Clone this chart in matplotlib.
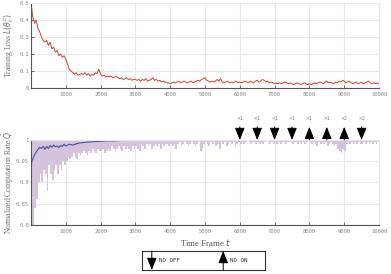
import numpy as np
import matplotlib
matplotlib.use("Agg")
import matplotlib.pyplot as plt

# training loss, one value every 50 frames (0 .. 10000)
loss_step = 50
loss = [
    0.50, 0.42, 0.38, 0.40, 0.35, 0.33, 0.30, 0.28, 0.27, 0.28, 0.25, 0.27, 0.23, 0.24, 0.21, 0.22, 0.19, 0.20, 0.18, 0.19,
    0.17, 0.14, 0.11, 0.10, 0.09, 0.08, 0.09, 0.075, 0.08, 0.085, 0.08, 0.09, 0.075, 0.085, 0.07, 0.08, 0.075, 0.09, 0.085, 0.11,
    0.08, 0.07, 0.075, 0.065, 0.07, 0.065, 0.07, 0.06, 0.065, 0.07, 0.06, 0.055, 0.06, 0.05, 0.055, 0.06, 0.05, 0.055, 0.045, 0.05,
    0.05, 0.045, 0.05, 0.04, 0.05, 0.045, 0.055, 0.04, 0.045, 0.05, 0.06, 0.045, 0.05, 0.04, 0.045, 0.035, 0.04, 0.035, 0.03, 0.03,
    0.025, 0.03, 0.035, 0.03, 0.035, 0.04, 0.03, 0.035, 0.04, 0.035, 0.03, 0.035, 0.04, 0.03, 0.035, 0.04, 0.045, 0.04, 0.05, 0.055,
    0.06, 0.045, 0.04, 0.035, 0.04, 0.035, 0.04, 0.05, 0.04, 0.055, 0.035, 0.03, 0.035, 0.04, 0.03, 0.035, 0.03, 0.035, 0.04, 0.03,
    0.035, 0.03, 0.035, 0.04, 0.035, 0.03, 0.04, 0.035, 0.03, 0.04, 0.045, 0.035, 0.04, 0.05, 0.045, 0.035, 0.04, 0.03, 0.035, 0.03,
    0.025, 0.03, 0.025, 0.03, 0.025, 0.03, 0.035, 0.03, 0.025, 0.03, 0.025, 0.02, 0.025, 0.03, 0.025, 0.02, 0.025, 0.03, 0.025, 0.02,
    0.025, 0.02, 0.025, 0.03, 0.025, 0.03, 0.035, 0.03, 0.025, 0.035, 0.04, 0.03, 0.035, 0.03, 0.025, 0.035, 0.03, 0.04, 0.035, 0.045,
    0.04, 0.03, 0.035, 0.04, 0.03, 0.025, 0.03, 0.035, 0.025, 0.03, 0.035, 0.025, 0.03, 0.035, 0.04, 0.03, 0.025, 0.03, 0.025, 0.03,
    0.025,
]

# lowest normalized rate in each 50-frame bin
rate_step = 50
rate_min = [
    0.78, 0.80, 0.84, 0.86, 0.90, 0.92, 0.90, 0.93, 0.92, 0.88, 0.94, 0.92, 0.905, 0.93, 0.94, 0.92, 0.94, 0.93, 0.95, 0.94,
    0.95, 0.96, 0.955, 0.96, 0.97, 0.96, 0.955, 0.97, 0.965, 0.97, 0.975, 0.97, 0.965, 0.975, 0.97, 0.98, 0.975, 0.97, 0.98, 0.975,
    0.975, 0.98, 0.97, 0.975, 0.98, 0.975, 0.985, 0.98, 0.975, 0.98, 0.985, 0.98, 0.975, 0.985, 0.98, 0.985, 0.98, 0.975, 0.985, 0.98,
    0.985, 0.98, 0.975, 0.99, 0.985, 0.98, 0.99, 0.985, 0.99, 0.98, 0.985, 0.99, 0.985, 0.99, 0.98, 0.99, 0.985, 0.99, 0.99, 0.985,
    0.99, 0.985, 0.99, 0.98, 0.99, 0.995, 0.985, 0.99, 0.995, 0.99, 0.985, 0.99, 0.995, 0.99, 0.985, 0.99, 0.995, 0.975, 0.98, 0.99,
    0.995, 0.99, 0.985, 0.995, 0.99, 0.995, 0.985, 0.99, 0.98, 0.995, 0.99, 0.995, 0.985, 0.99, 0.995, 0.99, 0.995, 0.985, 0.99, 0.995,
    0.99, 0.995, 0.99, 0.995, 1.0, 0.995, 0.99, 0.995, 0.995, 0.99, 0.995, 0.99, 0.995, 0.99, 0.995, 1.0, 0.995, 0.99, 0.995, 0.99,
    0.995, 0.99, 0.995, 0.99, 0.995, 0.995, 0.99, 0.995, 1.0, 0.995, 0.99, 0.995, 0.995, 0.99, 0.995, 0.99, 0.995, 0.99, 0.995, 1.0,
    0.995, 0.99, 0.995, 0.99, 0.985, 0.995, 0.99, 0.995, 0.99, 0.995, 0.985, 0.99, 0.995, 0.99, 0.985, 0.99, 0.98, 0.975, 0.97, 0.98,
    0.975, 0.99, 0.995, 0.99, 0.995, 0.99, 0.995, 0.99, 0.995, 0.99, 0.99, 0.995, 0.99, 0.995, 0.99, 0.995, 0.99, 0.995, 0.99, 0.995,
]

# moving average of normalized rate
avg_frames = [0, 25, 50, 100, 150, 200, 250, 300, 350, 400, 450, 500, 550, 600, 650, 700, 750, 800, 850, 900,
              950, 1000, 1100, 1200, 1300, 1400, 1500, 1600, 1800, 2000, 2200, 2400, 2600, 2800, 3000, 3500, 4000, 10000]
avg_rate = [0.93, 0.95, 0.955, 0.965, 0.972, 0.978, 0.983, 0.98, 0.985, 0.978, 0.985, 0.98, 0.987, 0.983, 0.988, 0.984,
            0.986, 0.982, 0.987, 0.985, 0.99, 0.986, 0.99, 0.988, 0.991, 0.993, 0.994, 0.995, 0.996, 0.997, 0.998, 0.998,
            0.999, 0.999, 1.0, 1.0, 1.0, 1.0]

# ND switching events
event_frames = [6000, 6500, 7000, 7500, 8000, 8500, 9000, 9500]
event_on = [False, False, False, False, True, True, True, False]
event_labels = ["×1", "×1", "×1", "×1", "×1", "×1", "×2", "×2"]

xticks = list(range(0, 10001, 1000))
xtick_labels = [""] + [str(t) for t in xticks[1:]]

red = "#d6402d"
purple = "#d5c2dc"
blue = "#4a4f9c"
grid_c = "#e8e8e8"
tick_c = "#8a8a8a"
label_c = "#707070"
mono = "DejaVu Sans Mono"
serif = "Liberation Serif"

fig = plt.figure(figsize=(3.91, 2.74), dpi=100)
ax1 = fig.add_axes([0.0793, 0.679, 0.890, 0.310])
ax2 = fig.add_axes([0.0793, 0.179, 0.890, 0.310])


def style(ax):
    ax.grid(True, color=grid_c, lw=0.8)
    ax.set_axisbelow(True)
    for s in ["top", "right"]:
        ax.spines[s].set_color(grid_c)
    for s in ["left", "bottom"]:
        ax.spines[s].set_color("#555555")
        ax.spines[s].set_linewidth(0.8)
    ax.tick_params(direction="in", length=2, width=0.6, color="#555555",
                   labelsize=4.0, labelcolor=tick_c, pad=3)
    ax.tick_params(axis="y", pad=1.5)
    ax.set_xlim(0, 10000)
    ax.set_xticks(xticks)
    ax.set_xticklabels(xtick_labels, family=mono)


# top: training loss
loss_x = np.arange(len(loss)) * loss_step
ax1.plot(loss_x, loss, color=red, lw=0.7)
ax1.set_ylim(0, 0.5)
ax1.set_yticks([0, 0.1, 0.2, 0.3, 0.4, 0.5])
ax1.set_yticklabels(["0", "0.1", "0.2", "0.3", "0.4", "0.5"], family=mono)
style(ax1)
ax1.set_ylabel(r"Training Loss $L(\theta_t^c)$", family=serif, fontsize=5.5,
               color=label_c)
ax1.yaxis.set_label_coords(-0.044, 0.5)

# bottom: normalized computation rate
rate_x = np.arange(len(rate_min)) * rate_step
rate_min = np.array(rate_min)
ax2.bar(rate_x, 1 - rate_min, bottom=rate_min, width=rate_step, align="edge",
        color=purple, linewidth=0)
ax2.plot(avg_frames, avg_rate, color=blue, lw=0.8)
ax2.set_ylim(0.8, 1.0)
ax2.set_yticks([0.8, 0.85, 0.9, 0.95, 1.0])
ax2.set_yticklabels(["0.8", "0.85", "0.9", "0.95", "1"], family=mono)
style(ax2)
ax2.set_ylabel(r"Normalized Computation Rate $\hat{Q}$", family=serif, fontsize=5.5,
               color=label_c)
ax2.yaxis.set_label_coords(-0.044, 0.5)
ax2.set_xlabel(r"Time Frame $t$", family=serif, fontsize=6.3, color="#555555", labelpad=2)

down_style = "-|>,head_length=0.75,head_width=0.3"
up_style = "<|-,head_length=0.75,head_width=0.3"
for f, on, lab in zip(event_frames, event_on, event_labels):
    ax2.annotate("", xy=(f, 1.0), xycoords="data", xytext=(0, 9.5), textcoords="offset points",
                 arrowprops=dict(arrowstyle=up_style if on else down_style, color="black",
                                 lw=0.7, shrinkA=0, shrinkB=0),
                 annotation_clip=False)
    ax2.annotate(lab, xy=(f, 1.0), xytext=(0, 14), textcoords="offset points",
                 ha="center", va="bottom", fontsize=4.2, color=tick_c, family=mono,
                 annotation_clip=False)

# legend box
lax = fig.add_axes([0.363, 0.0146, 0.315, 0.0694])
lax.set_xlim(0, 1)
lax.set_ylim(0, 1)
lax.set_xticks([])
lax.set_yticks([])
for s in lax.spines.values():
    s.set_color("#333333")
    s.set_linewidth(0.8)
lax.annotate("", xy=(0.08, 0.0), xytext=(0.08, 1.0),
             arrowprops=dict(arrowstyle=down_style, color="black", lw=0.7, shrinkA=0, shrinkB=0))
lax.text(0.135, 0.5, "ND OFF", fontsize=4.2, family=mono, va="center", color="#333333")
lax.annotate("", xy=(0.66, 1.0), xytext=(0.66, 0.0),
             arrowprops=dict(arrowstyle=down_style, color="black", lw=0.7, shrinkA=0, shrinkB=0))
lax.text(0.715, 0.5, "ND ON", fontsize=4.2, family=mono, va="center", color="#333333")

fig.savefig("out.png", dpi=100)
